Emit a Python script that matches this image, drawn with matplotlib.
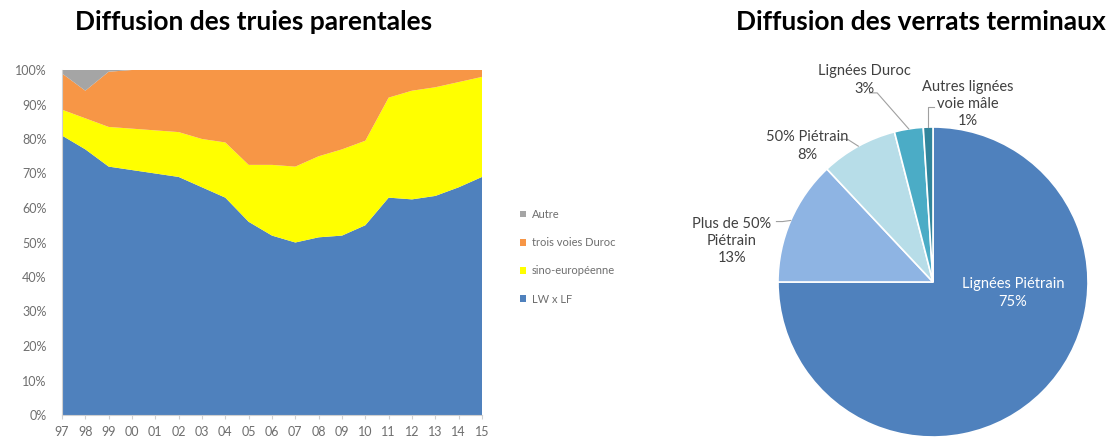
import numpy as np
import matplotlib.pyplot as plt
from matplotlib.patches import Patch

plt.rcParams['font.family'] = ['Lato', 'DejaVu Sans']

# left chart: sow lines, share of herd (%)
years = ["97", "98", "99", "00", "01", "02", "03", "04", "05", "06",
         "07", "08", "09", "10", "11", "12", "13", "14", "15"]
lw_lf = [81, 77, 72, 71, 70, 69, 66, 63, 56, 52,
         50, 51.5, 52, 55, 63, 62.5, 63.5, 66, 69]
sino = [7.5, 9, 11.5, 12, 12.5, 13, 14, 16, 16.5, 20.5,
        22, 23.5, 25, 24.5, 29, 31.5, 31.5, 30.5, 29]
duroc3 = [10.5, 8, 16, 17, 17.5, 18, 20, 21, 27.5, 27.5,
          28, 25, 23, 20.5, 8, 6, 5, 3.5, 2]
autre = [1, 6, 0.5, 0, 0, 0, 0, 0, 0, 0,
         0, 0, 0, 0, 0, 0, 0, 0, 0]
area_labels = ["LW x LF", "sino-européenne", "trois voies Duroc", "Autre"]
area_colors = ["#4F81BD", "#FFFF00", "#F79646", "#A5A5A5"]

# right chart: terminal boars
pie_labels = ["Lignées Piétrain", "Plus de 50%\nPiétrain", "50% Piétrain",
              "Lignées Duroc", "Autres lignées\nvoie mâle"]
pie_values = [75, 13, 8, 3, 1]
pie_colors = ["#4F81BD", "#8EB4E3", "#B7DDE8", "#4BACC6", "#31859C"]

W, H = 1110, 446
fig = plt.figure(figsize=(W / 100, H / 100), dpi=100)
fig.patch.set_facecolor("white")

# ---- stacked area ----
ax = fig.add_axes([62 / W, 31 / H, 420 / W, 345 / H])
x = np.arange(len(years))
ax.stackplot(x, lw_lf, sino, duroc3, autre, colors=area_colors, linewidth=0)
ax.set_xlim(0, len(years) - 1)
ax.set_ylim(0, 100)
ax.set_xticks(x)
ax.set_xticklabels(years)
ax.set_yticks(np.arange(0, 101, 10))
ax.set_yticklabels([f"{v}%" for v in range(0, 101, 10)])
ax.tick_params(axis="y", length=0, pad=11, labelsize=9, labelcolor="#6E6E6E")
ax.tick_params(axis="x", length=3, color="#D0D0D0", pad=5, labelsize=9,
               labelcolor="#6E6E6E")
for side in ("top", "right"):
    ax.spines[side].set_visible(False)
for side in ("left", "bottom"):
    ax.spines[side].set_color("#D0D0D0")

handles = [Patch(facecolor=c, edgecolor="none") for c in area_colors][::-1]
ax.legend(handles, area_labels[::-1], loc="upper left",
          bbox_to_anchor=(510 / W, 1 - 199 / H), bbox_transform=fig.transFigure,
          frameon=False, fontsize=8, labelcolor="#6E6E6E",
          handlelength=0.55, handleheight=0.55, handletextpad=0.5,
          labelspacing=1.55)

fig.text(254 / W, 1 - 22 / H, "Diffusion des truies parentales",
         ha="center", va="center", fontsize=19, fontweight="bold")

# ---- pie ----
R = 155
pax = fig.add_axes([(933 - R) / W, (H - 282 - R) / H, 2 * R / W, 2 * R / H])
wedges, _ = pax.pie(pie_values, colors=pie_colors, startangle=90,
                    counterclock=False, radius=1,
                    wedgeprops=dict(edgecolor="white", linewidth=1.2))
pax.set_xlim(-1, 1)
pax.set_ylim(-1, 1)
pax.set_aspect("equal")
pax.axis("off")

fig.text(921 / W, 1 - 22 / H, "Diffusion des verrats terminaux",
         ha="center", va="center", fontsize=19, fontweight="bold")

# label offsets (text block centre, pixels relative to pie centre)
label_pos = [(80, -11), (-201, 41), (-126, 136), (-69, 202), (35, 178)]
for i, (w, lab, val) in enumerate(zip(wedges, pie_labels, pie_values)):
    txt = f"{lab}\n{val}%"
    dx, dy = label_pos[i]
    tx, ty = dx / R, dy / R
    if i == 0:
        pax.text(tx, ty, txt, ha="center", va="center", color="white",
                 fontsize=10.5, linespacing=1.3)
        continue
    pax.text(tx, ty, txt, ha="center", va="center", color="#404040",
             fontsize=10.5, linespacing=1.3, clip_on=False)
    mid = np.deg2rad((w.theta1 + w.theta2) / 2)
    ex, ey = np.cos(mid), np.sin(mid)
    if i == 1:
        sx, sy = -1.01, 0.39
        pax.plot([sx, sx + 0.04, ex], [sy, sy, ey], color="#A0A0A0", lw=0.8,
                 clip_on=False)
    elif i == 2:
        sx, sy = -0.55, 0.92
        pax.plot([sx - 0.05, sx, ex], [sy, sy, ey], color="#A0A0A0", lw=0.8,
                 clip_on=False)
    elif i == 3:
        sx, sy = -0.36, 1.22
        pax.plot([sx - 0.05, sx, ex], [sy, sy, ey], color="#A0A0A0", lw=0.8,
                 clip_on=False)
    else:
        sx, sy = ex, 1.13
        pax.plot([sx + 0.04, sx, ex], [sy, sy, ey], color="#A0A0A0", lw=0.8,
                 clip_on=False)

fig.savefig("out.png", dpi=100, facecolor="white")
